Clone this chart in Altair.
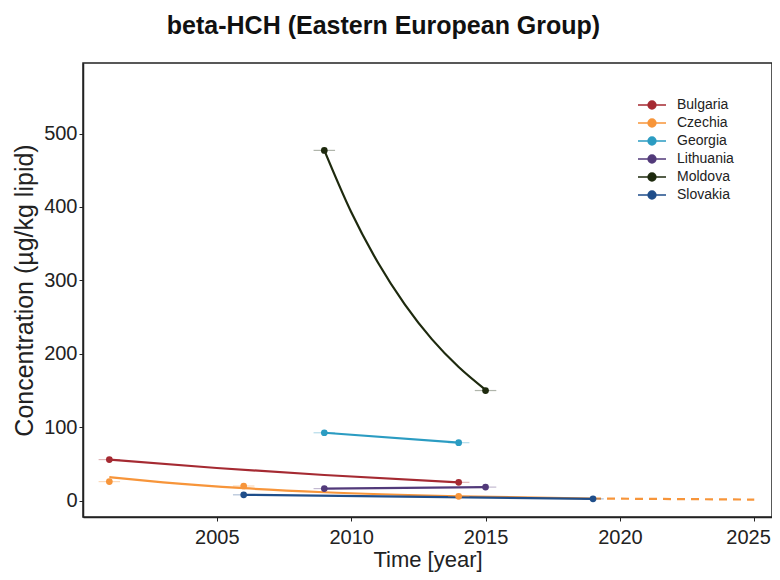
import altair as alt
import pandas as pd

countries = ["Bulgaria", "Czechia", "Georgia", "Lithuania", "Moldova", "Slovakia"]
colors = ["#A52A32", "#F7953A", "#2B9CC2", "#523A7A", "#1E2A0E", "#1F4E8A"]

# observed points
pt_country = ["Bulgaria", "Bulgaria", "Czechia", "Czechia", "Czechia", "Georgia", "Georgia",
              "Lithuania", "Lithuania", "Moldova", "Moldova", "Slovakia", "Slovakia"]
pt_year = [2001, 2014, 2001, 2006, 2014, 2009, 2014, 2009, 2015, 2009, 2015, 2006, 2019]
pt_value = [56, 25, 26, 20, 6, 92.5, 79, 16.5, 18.5, 477, 150, 8, 2.5]

# fitted trend curves
fit_country = (["Bulgaria"] * 4 + ["Czechia"] * 6 + ["Georgia"] * 2 + ["Lithuania"] * 2
               + ["Moldova"] * 7 + ["Slovakia"] * 2)
fit_year = [2001, 2005, 2009, 2014,
            2001, 2003, 2006, 2009, 2014, 2019,
            2009, 2014,
            2009, 2015,
            2009, 2010, 2011, 2012, 2013, 2014, 2015,
            2006, 2019]
fit_value = [56, 44.5, 35, 25,
             32, 25, 17, 11.5, 6, 3,
             92.5, 79,
             16.5, 18.5,
             477, 393, 324, 267, 220, 182, 151,
             8, 2.5]

# projection (dashed)
proj_country = ["Czechia", "Czechia"]
proj_year = [2019, 2025]
proj_value = [3, 1.5]

x_ticks = [2005, 2010, 2015, 2020, 2025]
y_ticks = [0, 100, 200, 300, 400, 500]

pts = pd.DataFrame({"country": pt_country, "year": pt_year, "value": pt_value})
fit = pd.DataFrame({"country": fit_country, "year": fit_year, "value": fit_value})
proj = pd.DataFrame({"country": proj_country, "year": proj_year, "value": proj_value})

FONT = "Liberation Sans"
xscale = alt.Scale(domain=[2000.02, 2025.66], nice=False, zero=False)
yscale = alt.Scale(domain=[-22.2, 596], nice=False, zero=False)
cscale = alt.Scale(domain=countries, range=colors)

xenc = alt.X("year:Q", scale=xscale,
             axis=alt.Axis(values=x_ticks, format="d", title="Time [year]", grid=False,
                           labelFlush=20, labelFlushOffset=16))
yenc = alt.Y("value:Q", scale=yscale,
             axis=alt.Axis(values=y_ticks, title="Concentration (µg/kg lipid)", grid=False))

sym = "M-2,0L2,0M-0.55,0A0.55,0.55 0 1,0 0.55,0A0.55,0.55 0 1,0 -0.55,0Z"
legend = alt.Legend(orient="none", legendX=561, legendY=34,
                    symbolType=sym, symbolSize=196,
                    symbolStrokeWidth=1.6, symbolOpacity=1,
                    labelFont=FONT, labelFontSize=14,
                    labelColor="#222", labelOffset=17,
                    rowPadding=2, padding=0)
cenc = alt.Color("country:N", scale=cscale, title=None, legend=legend)

lines = alt.Chart(fit).mark_line(strokeWidth=2.2, interpolate="monotone").encode(
    x=xenc, y=yenc, color=cenc, detail="country:N",
)

dashed = alt.Chart(proj).mark_line(strokeWidth=2.2, strokeDash=[8, 6]).encode(
    x=xenc, y=yenc, color=cenc,
)

whisk = alt.Chart(pts).transform_calculate(
    x0="datum.year - 0.4", x1="datum.year + 0.4"
).mark_rule(strokeWidth=1.2, opacity=0.35).encode(
    x=alt.X("x0:Q", scale=xscale), x2="x1:Q", y=alt.Y("value:Q", scale=yscale),
    color=cenc,
)

points = alt.Chart(pts).mark_point(filled=True, size=45, opacity=1).encode(
    x=xenc, y=yenc, color=cenc,
)

chart = alt.layer(lines, dashed, whisk, points).properties(
    width=689, height=454,
    title=alt.TitleParams("beta-HCH (Eastern European Group)", font=FONT, fontSize=25,
                          fontWeight="bold", color="#111", anchor="middle", dx=-44, offset=24),
    padding={"left": 75, "top": 55, "right": 0, "bottom": 55},
    autosize=alt.AutoSizeParams(type="none"),
).configure_view(
    stroke="#222", strokeWidth=1.5
).configure_axis(
    labelFont=FONT, titleFont=FONT, labelFontSize=20, titleFontSize=22,
    labelColor="#222", titleColor="#222", titleFontWeight="normal",
    domainColor="#222", domainWidth=1.5, tickColor="#222", tickSize=4, tickWidth=1,
).configure_axisX(
    labelPadding=6, titlePadding=2
).configure_axisY(
    labelPadding=2, titlePadding=6, titleFontSize=25
)

chart.save("out.html", embed_options={"renderer": "svg", "actions": False})
